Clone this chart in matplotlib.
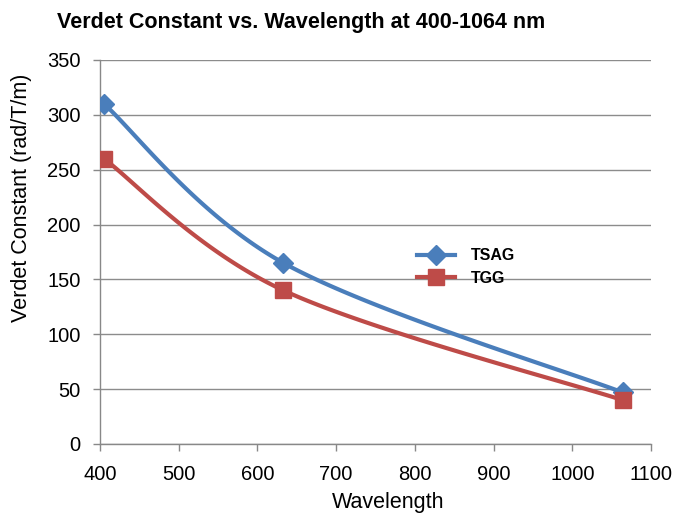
import numpy as np
import matplotlib
matplotlib.use("Agg")
import matplotlib.pyplot as plt
from matplotlib.lines import Line2D

wavelength = [405, 633, 1064]
tsag = [310, 165, 47]
tgg = [260, 140, 40]
series_names = ["TSAG", "TGG"]
x_ticks = [400, 500, 600, 700, 800, 900, 1000, 1100]
y_ticks = [0, 50, 100, 150, 200, 250, 300, 350]

plt.rcParams['font.family'] = ['Liberation Sans', 'DejaVu Sans']


def smooth(x, y, n=60):
    # Excel-style smoothed line: Catmull-Rom as cubic Bezier
    x = np.asarray(x, float)
    y = np.asarray(y, float)
    px = np.concatenate([[x[0]], x, [x[-1]]])
    py = np.concatenate([[y[0]], y, [y[-1]]])
    xs, ys = [], []
    for i in range(1, len(px) - 2):
        p0 = np.array([px[i - 1], py[i - 1]])
        p1 = np.array([px[i], py[i]])
        p2 = np.array([px[i + 1], py[i + 1]])
        p3 = np.array([px[i + 2], py[i + 2]])
        c1 = p1 + (p2 - p0) / 6.0
        c2 = p2 - (p3 - p1) / 6.0
        t = np.linspace(0, 1, n)[:, None]
        b = ((1 - t) ** 3) * p1 + 3 * ((1 - t) ** 2) * t * c1 + 3 * (1 - t) * t ** 2 * c2 + t ** 3 * p2
        xs.extend(b[:, 0])
        ys.extend(b[:, 1])
    return np.array(xs), np.array(ys)


fig = plt.figure(figsize=(6.86, 5.15), dpi=100)
ax = fig.add_axes([0.1458, 0.1379, 0.949 - 0.1458, 0.8835 - 0.1379])

blue = '#4A7EBB'
red = '#BE4B48'
sx, sy = smooth(wavelength, tsag)
ax.plot(sx, sy, color=blue, lw=3, zorder=3)
ax.plot(wavelength, tsag, linestyle='none', marker='D', markersize=10.5, color=blue, zorder=4)
sx, sy = smooth(wavelength, tgg)
ax.plot(sx, sy, color=red, lw=3, zorder=3)
ax.plot(wavelength, tgg, linestyle='none', marker='s', markersize=11, color=red, zorder=4)

ax.set_xlim(400, 1100)
ax.set_ylim(0, 350)
ax.set_xticks(x_ticks)
ax.set_yticks(y_ticks)
ax.tick_params(axis='both', labelsize=14.5, labelcolor='#000000', length=5, width=1,
               direction='out', color='#888888')
ax.tick_params(axis='x', pad=10)
ax.tick_params(axis='y', pad=9)
ax.yaxis.grid(True, color='#8C8C8C', lw=1)
ax.set_axisbelow(True)
for s in ['top', 'right']:
    ax.spines[s].set_visible(False)
for s in ['left', 'bottom']:
    ax.spines[s].set_color('#888888')
    ax.spines[s].set_linewidth(1)

ax.set_xlabel('Wavelength', fontsize=15.5, va='center')
ax.xaxis.set_label_coords(0.523, -0.153)
ax.set_ylabel('Verdet Constant (rad/T/m)', fontsize=15.5, va='center')
ax.yaxis.set_label_coords(-0.1416, 0.64)
fig.text(0.439, 0.957, 'Verdet Constant vs. Wavelength at 400-1064 nm', fontsize=15.5,
         fontweight='bold', ha='center', va='center')

handles = [Line2D([], [], color=blue, lw=3, marker='D', markersize=10.5),
           Line2D([], [], color=red, lw=3, marker='s', markersize=11)]
leg = ax.legend(handles, series_names, loc='upper left', bbox_to_anchor=(0.561, 0.53),
                frameon=False, prop={'weight': 'bold', 'size': 11.5}, handlelength=2.4,
                labelspacing=0.45, borderpad=0, handletextpad=0.95)

fig.savefig('out.png', dpi=100)
